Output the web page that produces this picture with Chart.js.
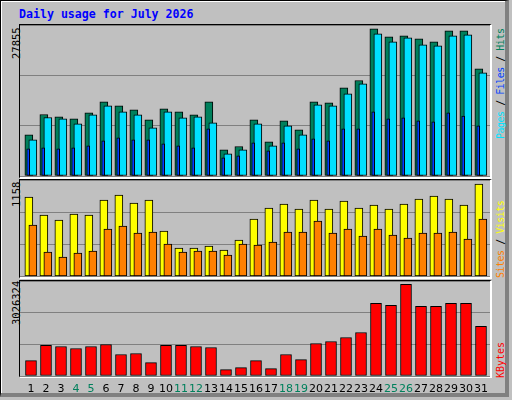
<!DOCTYPE html>
<html><head><meta charset="utf-8">
<script src="https://cdn.jsdelivr.net/npm/chart.js@4/dist/chart.umd.min.js"></script>
<style>
html,body{margin:0;padding:0;background:#C0C0C0;}
#wrap{position:relative;width:512px;height:400px;background:#C0C0C0;overflow:hidden;}
.outer{position:absolute;left:0;top:0;width:504px;height:392px;border-top:1px solid #000;border-left:1px solid #000;border-right:4px solid #808080;border-bottom:4px solid #808080;box-shadow:inset 1px 1px 0 #fff;}
.frame{position:absolute;border-top:1px solid #000;border-left:1px solid #000;border-right:2px solid #fff;border-bottom:2px solid #fff;}
canvas{position:absolute;left:0;top:0;}
.t{position:absolute;font-family:"DejaVu Sans Mono",monospace;white-space:pre;}
.rot{transform-origin:0 0;transform:rotate(-90deg);}
</style></head><body>
<div id="wrap">
<div class="outer"></div>
<div class="t" style="left:19px;top:7px;font-size:11.6px;font-weight:bold;color:#0000FF;">Daily usage for July 2026</div>
<div class="frame" style="left:19px;top:24px;width:470px;height:152px;"></div>
<div class="frame" style="left:19px;top:179px;width:470px;height:97px;"></div>
<div class="frame" style="left:19px;top:280px;width:470px;height:95px;"></div>
<div class="t rot" style="left:10px;top:59px;font-size:10.5px;color:#000;">27855</div>
<div class="t rot" style="left:10px;top:207px;font-size:10.5px;color:#000;">1158</div>
<div class="t rot" style="left:10px;top:325px;font-size:10.5px;color:#000;">3026324</div>
<div class="t rot" style="left:495px;top:139px;font-size:10px;letter-spacing:-0.5px;"><span style="color:#00E0FF">Pages</span><span style="color:#000"> / </span><span style="color:#0040FF">Files</span><span style="color:#000"> / </span><span style="color:#00805C">Hits</span></div>
<div class="t rot" style="left:495px;top:278px;font-size:10px;letter-spacing:-0.5px;"><span style="color:#FF8000">Sites</span><span style="color:#000"> / </span><span style="color:#FFFF00">Visits</span></div>
<div class="t rot" style="left:495px;top:378px;font-size:10px;color:#FF0000;">KBytes</div>
<canvas id="c1" width="512" height="400"></canvas>
<canvas id="c2" width="512" height="400"></canvas>
<canvas id="c3" width="512" height="400"></canvas>
</div>
<script>
const days=[1,2,3,4,5,6,7,8,9,10,11,12,13,14,15,16,17,18,19,20,21,22,23,24,25,26,27,28,29,30,31];
const weekend=[4,5,11,12,18,19,25,26];
const hits=[7600,11350,10920,10550,11660,13690,12950,12210,10370,12400,11840,11290,13690,4830,5440,10370,6310,10180,8520,13690,13500,16270,17620,27160,25680,25870,25310,24760,26790,26790,19780];
const files=[6680,10790,10550,9630,11290,12950,11840,11290,8890,11840,10740,10920,9820,4100,4830,9630,5570,9260,7600,13140,12950,15170,17010,26240,24760,25500,24210,24020,25870,26050,19040];
const pages=[5020,5200,5020,5200,5570,6490,7050,6680,6680,5940,5570,5200,8710,3360,3730,6130,4650,6130,5020,6860,6490,8710,8710,11840,10550,10740,10180,10000,11660,11070,9260];
const visits=[954,737,677,749,737,917,977,881,917,545,341,341,365,317,437,689,821,869,809,917,809,905,821,857,809,869,929,965,929,857,1109];
const sites=[617,293,233,281,305,569,605,521,533,389,293,305,305,257,389,377,413,533,533,665,521,569,485,569,497,461,521,521,533,449,689];
const kbytes=[492000,981000,940000,876000,940000,1003000,684000,716000,428000,981000,981000,940000,908000,205000,268000,492000,236000,684000,524000,1035000,1099000,1227000,1387000,2314000,2250000,2921000,2218000,2218000,2314000,2314000,1579000];
const maxHits=27855, maxVisits=1158, maxKB=3026324;

function pts(arr){return days.map((d,i)=>({x:d,y:arr[i]}));}
function xax(min,max){return {type:'linear',display:false,offset:false,min:min,max:max};}
function yax(max){return {min:0,max:max,afterFit:s=>{s.width=0;},border:{display:false},
  ticks:{display:false,stepSize:max/3,count:4},grid:{color:'#808080',lineWidth:1,drawTicks:false}};}
function ds(arr,color,axis,w){return {data:pts(arr),backgroundColor:color,borderColor:'#000',borderWidth:1,borderSkipped:false,xAxisID:axis,barThickness:w,grouped:false};}
const base={animation:false,responsive:false,plugins:{legend:{display:false},tooltip:{enabled:false}}};

new Chart(document.getElementById('c1'),{type:'bar',
 data:{datasets:[ds(pages,'#0040FF','xp',3),ds(files,'#00E0FF','xf',8),ds(hits,'#00805C','xh',8)]},
 options:Object.assign({},base,{layout:{padding:{left:20,right:22,top:25,bottom:224}},
  scales:{xp:xax(0.454,31.787),xf:xax(0.144,31.477),xh:xax(0.41,31.743),y:yax(maxHits)}})});

new Chart(document.getElementById('c2'),{type:'bar',
 data:{datasets:[ds(sites,'#FF8000','xs',8),ds(visits,'#FFFF00','xv',8)]},
 options:Object.assign({},base,{layout:{padding:{left:20,right:22,top:180,bottom:123.5}},
  scales:{xs:xax(0.144,31.477),xv:xax(0.41,31.743),y:yax(maxVisits)}})});

new Chart(document.getElementById('c3'),{type:'bar',
 data:{datasets:[ds(kbytes,'#FF0000','xk',11)]},
 options:Object.assign({},base,{layout:{padding:{left:20,right:22,top:281,bottom:4}},
  scales:{xk:xax(0.267,31.6),
   xl:{type:'linear',position:'bottom',offset:false,min:0.267,max:31.6,grid:{display:false,drawTicks:false},border:{display:false},
     afterBuildTicks:s=>{s.ticks=days.map(d=>({value:d}));},
     afterFit:s=>{s.height=20;},
     ticks:{autoSkip:false,maxRotation:0,padding:7,font:{family:'DejaVu Sans',size:11},
       color:c=>weekend.includes(c.tick.value)?'#00805C':'#000',callback:v=>String(v)}},
   y:yax(maxKB)}})});
</script>
</body></html>
